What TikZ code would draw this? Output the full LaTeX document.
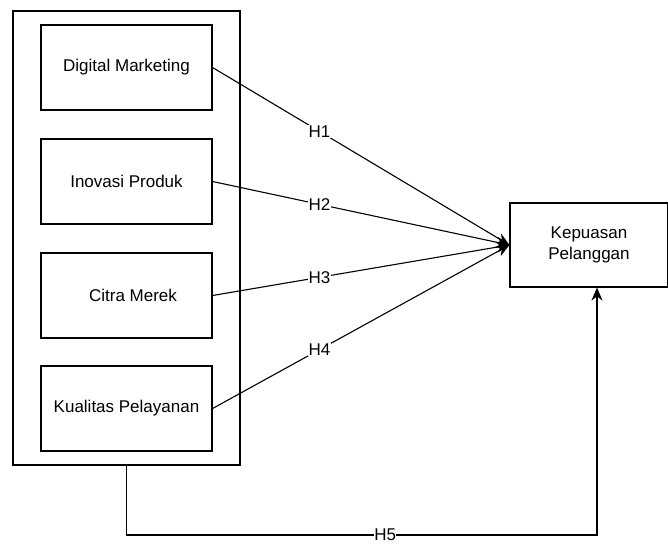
\documentclass[tikz,border=0pt]{standalone}
\usepackage{fontspec}
\setmainfont{Liberation Sans}
\usetikzlibrary{arrows.meta}

\begin{document}
\begin{tikzpicture}[x=1pt, y=-1pt, line width=1.1pt, font=\fontsize{17}{20.5}\selectfont]
  \tikzset{
    var/.style={draw, minimum width=171pt, minimum height=85pt, inner sep=0pt},
    hyp/.style={-{Stealth[length=13pt, width=11pt]}},
    lbl/.style={fill=white, inner sep=1pt}
  }
  \useasboundingbox (0,0) rectangle (668,544);
  \node[draw, minimum width=227pt, minimum height=454pt] (outer) at (126.5,238) {};
  \foreach \i/\y/\t in {1/67.5/Digital Marketing, 2/181.5/Inovasi Produk, 3/295.5/\hspace*{13pt}Citra Merek, 4/408.5/Kualitas Pelayanan}
    \node[var] (x\i) at (126.5,\y) {\t};
  \node[draw, minimum width=158pt, minimum height=84pt, align=center] (y) at (589,245) {Kepuasan\\Pelanggan};
  \foreach \i in {1,...,4}
    \draw[hyp] (x\i.east) -- (y.west) node[lbl, pos=0.36] {H\i};
  \coordinate (h5) at (597,535);
  \draw[hyp] (outer.south) |- node[lbl, inner sep=0pt, pos=0.775] {H5} (h5) -- ([xshift=8pt]y.south);
\end{tikzpicture}
\end{document}
